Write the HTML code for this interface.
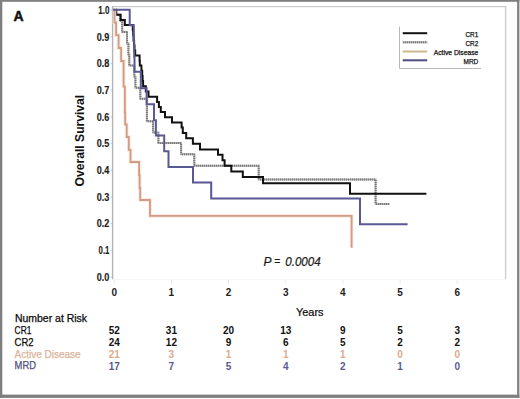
<!DOCTYPE html>
<html><head><meta charset="utf-8">
<style>
html,body{margin:0;padding:0;background:#fff;width:520px;height:399px;overflow:hidden;}
body{position:relative;font-family:"Liberation Sans",sans-serif;}
svg{position:absolute;left:0;top:0;}
</style></head>
<body>
<svg width="520" height="399" viewBox="0 0 520 399" font-family="Liberation Sans, sans-serif">
  <!-- outer border -->
  <g fill="#7f7f7f">
    <rect x="0" y="0" width="519.4" height="1.8"/>
    <rect x="0" y="0" width="2.3" height="397.9"/>
    <rect x="517.1" y="0" width="2.3" height="397.9"/>
    <rect x="0" y="394.6" width="519.4" height="3.3"/>
  </g>
  <!-- panel letter -->
  <text x="13.4" y="21.2" font-size="14" font-weight="bold" fill="#111" stroke="#111" stroke-width="0.5">A</text>

  <!-- plot frame -->
  <path d="M112.5 6.6 H505.6 V279.5" fill="none" stroke="#cdcdcd" stroke-width="1.4"/>
  <path d="M112.6 6 V279.5" fill="none" stroke="#b4b4b4" stroke-width="1.4"/>
  <path d="M112.5 279.5 H506.5" fill="none" stroke="#f6f6f6" stroke-width="1"/>
  <!-- x ticks -->
  <g stroke="#e6e6e6" stroke-width="1">
    <path d="M114.3 280 V283.5 M171.4 280 V283.5 M228.6 280 V283.5 M285.7 280 V283.5 M342.9 280 V283.5 M400.1 280 V283.5 M457.2 280 V283.5"/>
  </g>

  <!-- y labels -->
  <g font-size="10.5" font-weight="bold" fill="#1a1a1a" text-anchor="end" stroke="#1a1a1a" stroke-width="0.15">
    <text x="109.4" y="280.7" textLength="12.6" lengthAdjust="spacingAndGlyphs">0.0</text>
    <text x="109.4" y="254.0" textLength="10.8" lengthAdjust="spacingAndGlyphs">0.1</text>
    <text x="109.4" y="227.3" textLength="12.6" lengthAdjust="spacingAndGlyphs">0.2</text>
    <text x="109.4" y="200.7" textLength="12.6" lengthAdjust="spacingAndGlyphs">0.3</text>
    <text x="109.4" y="174.0" textLength="12.6" lengthAdjust="spacingAndGlyphs">0.4</text>
    <text x="109.4" y="147.3" textLength="12.6" lengthAdjust="spacingAndGlyphs">0.5</text>
    <text x="109.4" y="120.6" textLength="12.6" lengthAdjust="spacingAndGlyphs">0.6</text>
    <text x="109.4" y="93.9" textLength="12.6" lengthAdjust="spacingAndGlyphs">0.7</text>
    <text x="109.4" y="67.3" textLength="12.6" lengthAdjust="spacingAndGlyphs">0.8</text>
    <text x="109.4" y="40.6" textLength="12.6" lengthAdjust="spacingAndGlyphs">0.9</text>
    <text x="109.4" y="13.9" textLength="11.2" lengthAdjust="spacingAndGlyphs">1.0</text>
  </g>
  <path d="M110.6 277.0 H112 M110.6 250.3 H112 M110.6 223.6 H112 M110.6 197.0 H112 M110.6 170.3 H112 M110.6 143.6 H112 M110.6 116.9 H112 M110.6 90.2 H112 M110.6 63.6 H112 M110.6 36.9 H112 M110.6 10.2 H112" stroke="#c4c4c4" stroke-width="1" fill="none"/>
  <!-- y title -->
  <text transform="translate(83.9,140.6) rotate(-90)" text-anchor="middle" font-size="12" font-weight="bold" fill="#111" textLength="91.6" lengthAdjust="spacingAndGlyphs">Overall Survival</text>

  <!-- x labels -->
  <g font-size="10" font-weight="bold" fill="#222" text-anchor="middle">
    <text x="114.3" y="296">0</text>
    <text x="171.4" y="296">1</text>
    <text x="228.6" y="296">2</text>
    <text x="285.7" y="296">3</text>
    <text x="342.9" y="296">4</text>
    <text x="400.1" y="296">5</text>
    <text x="457.2" y="296">6</text>
  </g>
  <text x="295.9" y="316.3" font-size="11" fill="#0a0a0a" stroke="#0a0a0a" stroke-width="0.2">Years</text>

  <g font-size="12" font-style="italic" fill="#1a1a1a" stroke="#1a1a1a" stroke-width="0.2">
    <text x="263.5" y="265.8">P</text>
    <text x="277.2" y="264.9" text-anchor="middle" font-size="10">=</text>
    <text x="285.2" y="265.8" textLength="35.6" lengthAdjust="spacingAndGlyphs">0.0004</text>
  </g>

  <!-- legend -->
  <path d="M399.5 26.5 V68.5 H481" fill="none" stroke="#b8b8b8" stroke-width="1"/>
  <path d="M402.7 33.2 H427.2" stroke="#111" stroke-width="2"/>
  <path d="M402.7 42.3 H427.2" stroke="#acacac" stroke-width="2"/>
  <path d="M403 42.3 H427.2" stroke="#7c7c7c" stroke-width="2" stroke-dasharray="1 1"/>
  <path d="M402.7 51.5 H427.2" stroke="#cdb98f" stroke-width="2"/>
  <path d="M402.7 60.3 H427.2" stroke="#4c4c80" stroke-width="2"/>
  <g font-size="7" fill="#111" text-anchor="end" stroke="#111" stroke-width="0.25">
    <text x="478.3" y="36.6" textLength="12.8" lengthAdjust="spacingAndGlyphs">CR1</text>
    <text x="478.3" y="46.1" textLength="12.8" lengthAdjust="spacingAndGlyphs">CR2</text>
    <text x="478.3" y="54.6" textLength="44.6" lengthAdjust="spacingAndGlyphs">Active Disease</text>
    <text x="478.3" y="63.6" textLength="14.8" lengthAdjust="spacingAndGlyphs">MRD</text>
  </g>

  <!-- curves -->
  <g fill="none" stroke-linejoin="miter" stroke-linecap="butt">
<path stroke="#aeaeae" stroke-width="2" d="M113 9.7 H116 V14.8 H120.3 V20.9 H122.2 V32 H127 V43.4 H128.4 V54.4 H129.3 V65.5 H134.3 V76.5 H135.4 V87.8 H140.3 V98.8 H146.9 V110 V121.3 H153.1 V132.5 H158.4 V143.1 H181.1 V154.2 H194.3 V165.7 H258.7 V179.4 H375.6 V204 H389.6"/>
<path stroke="#7a7a7a" stroke-width="2" stroke-dasharray="1 1" stroke-dashoffset="1.00" d="M113.00 9.7 H116.00"/>
<path stroke="#7a7a7a" stroke-width="2" stroke-dasharray="1 1" stroke-dashoffset="1.70" d="M116.0 9.70 V14.80"/>
<path stroke="#7a7a7a" stroke-width="2" stroke-dasharray="1 1" stroke-dashoffset="0.00" d="M116.00 14.8 H120.30"/>
<path stroke="#7a7a7a" stroke-width="2" stroke-dasharray="1 1" stroke-dashoffset="0.80" d="M120.3 14.80 V20.90"/>
<path stroke="#7a7a7a" stroke-width="2" stroke-dasharray="1 1" stroke-dashoffset="0.30" d="M120.30 20.9 H122.20"/>
<path stroke="#7a7a7a" stroke-width="2" stroke-dasharray="1 1" stroke-dashoffset="0.90" d="M122.2 20.90 V32.00"/>
<path stroke="#7a7a7a" stroke-width="2" stroke-dasharray="1 1" stroke-dashoffset="0.20" d="M122.20 32.0 H127.00"/>
<path stroke="#7a7a7a" stroke-width="2" stroke-dasharray="1 1" stroke-dashoffset="0.00" d="M127.0 32.00 V43.40"/>
<path stroke="#7a7a7a" stroke-width="2" stroke-dasharray="1 1" stroke-dashoffset="1.00" d="M127.00 43.4 H128.40"/>
<path stroke="#7a7a7a" stroke-width="2" stroke-dasharray="1 1" stroke-dashoffset="1.40" d="M128.4 43.40 V54.40"/>
<path stroke="#7a7a7a" stroke-width="2" stroke-dasharray="1 1" stroke-dashoffset="0.40" d="M128.40 54.4 H129.30"/>
<path stroke="#7a7a7a" stroke-width="2" stroke-dasharray="1 1" stroke-dashoffset="0.40" d="M129.3 54.40 V65.50"/>
<path stroke="#7a7a7a" stroke-width="2" stroke-dasharray="1 1" stroke-dashoffset="1.30" d="M129.30 65.5 H134.30"/>
<path stroke="#7a7a7a" stroke-width="2" stroke-dasharray="1 1" stroke-dashoffset="1.50" d="M134.3 65.50 V76.50"/>
<path stroke="#7a7a7a" stroke-width="2" stroke-dasharray="1 1" stroke-dashoffset="0.30" d="M134.30 76.5 H135.40"/>
<path stroke="#7a7a7a" stroke-width="2" stroke-dasharray="1 1" stroke-dashoffset="0.50" d="M135.4 76.50 V87.80"/>
<path stroke="#7a7a7a" stroke-width="2" stroke-dasharray="1 1" stroke-dashoffset="1.40" d="M135.40 87.8 H140.30"/>
<path stroke="#7a7a7a" stroke-width="2" stroke-dasharray="1 1" stroke-dashoffset="1.80" d="M140.3 87.80 V98.80"/>
<path stroke="#7a7a7a" stroke-width="2" stroke-dasharray="1 1" stroke-dashoffset="0.30" d="M140.30 98.8 H146.90"/>
<path stroke="#7a7a7a" stroke-width="2" stroke-dasharray="1 1" stroke-dashoffset="0.80" d="M146.9 98.80 V110.00"/>
<path stroke="#7a7a7a" stroke-width="2" stroke-dasharray="1 1" stroke-dashoffset="0.00" d="M146.9 110.00 V121.30"/>
<path stroke="#7a7a7a" stroke-width="2" stroke-dasharray="1 1" stroke-dashoffset="0.90" d="M146.90 121.3 H153.10"/>
<path stroke="#7a7a7a" stroke-width="2" stroke-dasharray="1 1" stroke-dashoffset="1.30" d="M153.1 121.30 V132.50"/>
<path stroke="#7a7a7a" stroke-width="2" stroke-dasharray="1 1" stroke-dashoffset="1.10" d="M153.10 132.5 H158.40"/>
<path stroke="#7a7a7a" stroke-width="2" stroke-dasharray="1 1" stroke-dashoffset="0.50" d="M158.4 132.50 V143.10"/>
<path stroke="#7a7a7a" stroke-width="2" stroke-dasharray="1 1" stroke-dashoffset="0.40" d="M158.40 143.1 H181.10"/>
<path stroke="#7a7a7a" stroke-width="2" stroke-dasharray="1 1" stroke-dashoffset="1.10" d="M181.1 143.10 V154.20"/>
<path stroke="#7a7a7a" stroke-width="2" stroke-dasharray="1 1" stroke-dashoffset="1.10" d="M181.10 154.2 H194.30"/>
<path stroke="#7a7a7a" stroke-width="2" stroke-dasharray="1 1" stroke-dashoffset="0.20" d="M194.3 154.20 V165.70"/>
<path stroke="#7a7a7a" stroke-width="2" stroke-dasharray="1 1" stroke-dashoffset="0.30" d="M194.30 165.7 H258.70"/>
<path stroke="#7a7a7a" stroke-width="2" stroke-dasharray="1 1" stroke-dashoffset="1.70" d="M258.7 165.70 V179.40"/>
<path stroke="#7a7a7a" stroke-width="2" stroke-dasharray="1 1" stroke-dashoffset="0.70" d="M258.70 179.4 H375.60"/>
<path stroke="#7a7a7a" stroke-width="2" stroke-dasharray="1 1" stroke-dashoffset="1.40" d="M375.6 179.40 V204.00"/>
<path stroke="#7a7a7a" stroke-width="2" stroke-dasharray="1 1" stroke-dashoffset="1.60" d="M375.60 204.0 H389.60"/>
<path stroke="#111" stroke-width="2" d="M113 9.7 H116.3 V14.7 H120.6 V20 H124.8 V25.1 H132.8 V30.2 H133.2 V35.3 H133.6 V40.4 H134 V45.4 H134.5 V50.5 H135.2 V55.6 H139.6 V60.5 H139.8 V65.4 H141.4 V70.8 H142.2 V75.9 H142.6 V81 H143.1 V86.3 H145.8 V91.5 H148.5 V96.8 H157.1 V101.9 H158.9 V107 H160.8 V112.1 H165 V117.2 H172 V122.5 H181.6 V127.6 H182.8 V133 H186.2 V138.3 H192.9 V143.8 H200 V149.4 H218 V154.8 H222.5 V160.2 H224.6 V165.8 H231.3 V171.4 H242.8 V177.1 H263 V183.2 H350 V193.8 H426.4"/>
<path stroke="#fce8dc" stroke-width="3.6" d="M113 9.7 H114.5 V22.5 H116.1 V35.2 H118.6 V48 H121.1 V61 H123.6 V73.9 V86.6 H124.9 V99.5 V112.3 H125.2 V124.5 H126.7 V137 H128.8 V149.8 H130.5 V162 H139.1 V175 H139.6 V188 H140.2 V200 H150 V215.9 H351.6 V247.8"/>
<path stroke="#d09c88" stroke-width="1.8" d="M113 9.7 H114.5 V22.5 H116.1 V35.2 H118.6 V48 H121.1 V61 H123.6 V73.9 V86.6 H124.9 V99.5 V112.3 H125.2 V124.5 H126.7 V137 H128.8 V149.8 H130.5 V162 H139.1 V175 H139.6 V188 H140.2 V200 H150 V215.9 H351.6 V247.8"/>
<path stroke="#595994" stroke-width="2" d="M113 9.7 H129.7 V25.3 H133.8 V41 H134.2 V56.8 H134.5 V71.8 H140.8 V88.3 H146.6 V104.3 H154 V120.2 H155.9 V135.6 H164.2 V151.2 H168.5 V167 H193 V182.6 H211.2 V198.5 H360 V224.2 H407.6"/>
  </g>

  <!-- number at risk table -->
  <g font-size="10.2" fill="#0a0a0a" stroke-width="0.25">
    <text x="14.9" y="322" textLength="72.2" lengthAdjust="spacingAndGlyphs" stroke="#0a0a0a">Number at Risk</text>
    <text x="14.6" y="333.8" textLength="16.8" lengthAdjust="spacingAndGlyphs" stroke="#0a0a0a">CR1</text>
    <text x="14.6" y="345.5" textLength="19" lengthAdjust="spacingAndGlyphs" stroke="#0a0a0a">CR2</text>
    <text x="14.6" y="357.6" textLength="66" lengthAdjust="spacingAndGlyphs" fill="#d9b39a" stroke="#d9b39a">Active Disease</text>
    <text x="14.6" y="369.4" textLength="21.3" lengthAdjust="spacingAndGlyphs" fill="#50507e" stroke="#50507e">MRD</text>
  </g>
  <g font-size="10" font-weight="bold" text-anchor="middle">
    <g fill="#111">
      <text x="114.3" y="334.2">52</text><text x="171.4" y="334.2">31</text><text x="228.6" y="334.2">20</text><text x="285.7" y="334.2">13</text><text x="342.9" y="334.2">9</text><text x="400.1" y="334.2">5</text><text x="457.2" y="334.2">3</text>
      <text x="114.3" y="345.8">24</text><text x="171.4" y="345.8">12</text><text x="228.6" y="345.8">9</text><text x="285.7" y="345.8">6</text><text x="342.9" y="345.8">5</text><text x="400.1" y="345.8">2</text><text x="457.2" y="345.8">2</text>
    </g>
    <g fill="#dcab8e">
      <text x="114.3" y="357.5">21</text><text x="171.4" y="357.5">3</text><text x="228.6" y="357.5">1</text><text x="285.7" y="357.5">1</text><text x="342.9" y="357.5">1</text><text x="400.1" y="357.5">0</text><text x="457.2" y="357.5">0</text>
    </g>
    <g fill="#5a5a92">
      <text x="114.3" y="369.7">17</text><text x="171.4" y="369.7">7</text><text x="228.6" y="369.7">5</text><text x="285.7" y="369.7">4</text><text x="342.9" y="369.7">2</text><text x="400.1" y="369.7">1</text><text x="457.2" y="369.7">0</text>
    </g>
  </g>
</svg>
</body></html>
